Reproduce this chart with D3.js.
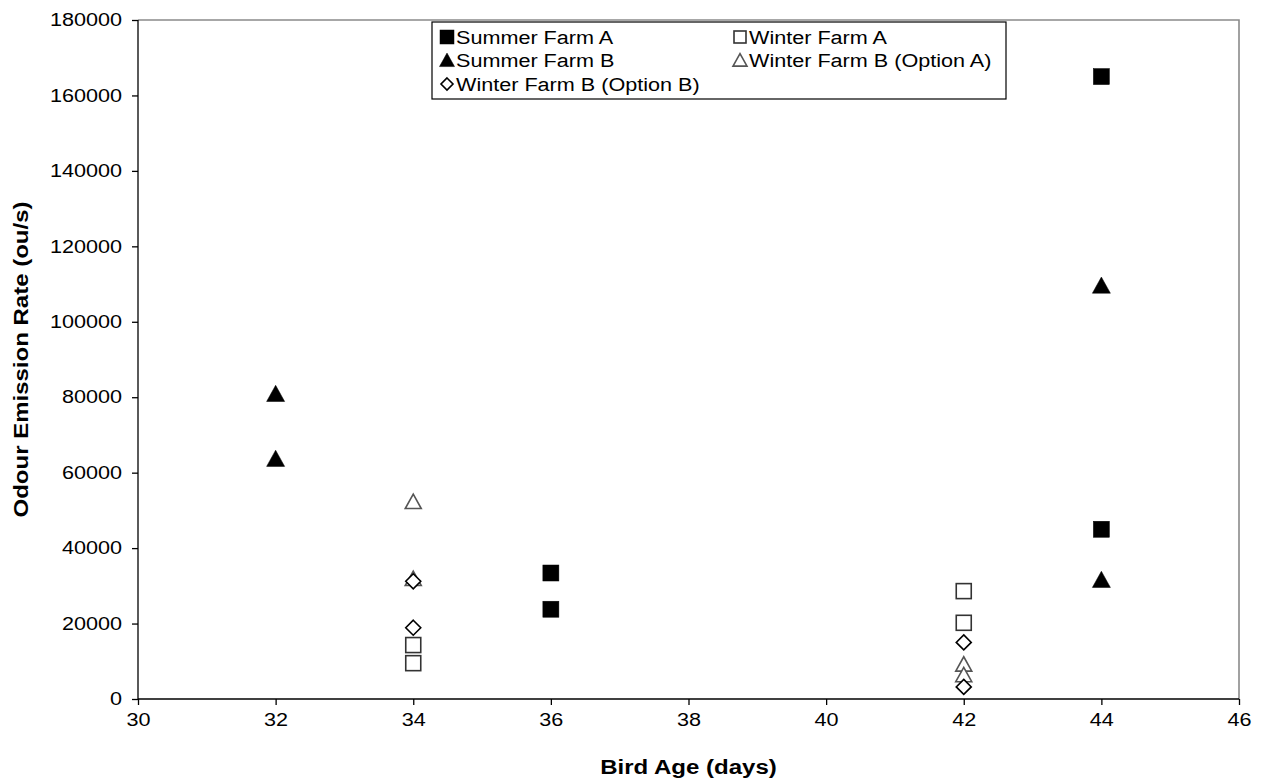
<!DOCTYPE html>
<html><head><meta charset="utf-8">
<script src="https://cdn.jsdelivr.net/npm/d3@7"></script>
<style>body{margin:0;background:#fff}svg{display:block;font-family:"Liberation Sans",Arial,sans-serif}</style>
</head><body>
<script>
const seriesNames = ["Summer Farm A","Winter Farm A","Summer Farm B","Winter Farm B (Option A)","Winter Farm B (Option B)"];
const summerFarmA = [[36,33400],[36,23800],[44,165000],[44,45000]];
const winterFarmA = [[34,14300],[34,9500],[42,28600],[42,20200]];
const summerFarmB = [[32,80800],[32,63600],[44,109500],[44,31500]];
const winterFarmBOptA = [[34,52200],[34,31800],[42,9100],[42,6300]];
const winterFarmBOptB = [[34,31200],[34,18900],[42,15000],[42,3200]];
const xTicks = [30,32,34,36,38,40,42,44,46];
const yTicks = [0,20000,40000,60000,80000,100000,120000,140000,160000,180000];

const W=1264,H=783;
const L=138,R=1239,T=20,B=699;
const STRETCH=1.2;
const svg=d3.select("body").append("svg").attr("width",W).attr("height",H);
const x=d3.scaleLinear().domain([30,46]).range([L,R]);
const y=d3.scaleLinear().domain([0,180000]).range([B,T]);

function widen(sel){
  sel.each(function(){
    const w=this.getComputedTextLength();
    d3.select(this).attr("textLength",w*STRETCH).attr("lengthAdjust","spacingAndGlyphs");
  });
}

// plot border top/right
svg.append("path").attr("d",`M${L},${T}H${R}V${B}`).attr("fill","none").attr("stroke","#8a8a8a").attr("stroke-width",1.6);

const xa=svg.append("g").attr("transform",`translate(0,${B})`).call(d3.axisBottom(x).tickValues(xTicks).tickSize(6).tickPadding(8).tickFormat(d3.format("d")));
const ya=svg.append("g").attr("transform",`translate(${L},0)`).call(d3.axisLeft(y).tickValues(yTicks).tickSize(6).tickPadding(10).tickFormat(d3.format("d")));
[xa,ya].forEach(a=>{a.selectAll("path,line").attr("stroke","#000").attr("stroke-width",1.3);a.selectAll("text").attr("font-size",18).attr("fill","#000").attr("font-family","Liberation Sans, Arial, sans-serif");});
xa.select(".domain").attr("d",`M${L},0H${R}`);
ya.select(".domain").attr("d",`M0,${B}V${T}`);
widen(xa.selectAll("text"));widen(ya.selectAll("text"));

const xt=svg.append("text").attr("x",(L+R)/2).attr("y",774).attr("text-anchor","middle").attr("font-size",20).attr("font-weight","bold").text("Bird Age (days)");
const yt=svg.append("text").attr("transform",`translate(28,${(T+B)/2}) rotate(-90)`).attr("text-anchor","middle").attr("font-size",20).attr("font-weight","bold").text("Odour Emission Rate (ou/s)");
widen(xt);widen(yt);

function marker(g,type,filled,size){
  let p;
  if(type==="square"){p=g.append("rect").attr("x",-size/2).attr("y",-size/2).attr("width",size).attr("height",size);}
  else if(type==="triangle"){const h=size*0.9;p=g.append("path").attr("d",`M0,${-h*0.55}L${size/2},${h*0.45}L${-size/2},${h*0.45}Z`);}
  else {const r=size/2;p=g.append("path").attr("d",`M0,${-r}L${r},0L0,${r}L${-r},0Z`);}
  p.attr("fill",filled?"#000":"#fff").attr("stroke",filled?"#000":(type==="triangle"?"#555":(type==="square"?"#333":"#000"))).attr("stroke-width",filled?0.5:1.6);
}
const specs=[
 {data:winterFarmA,type:"square",filled:false,size:15},
 {data:winterFarmBOptA,type:"triangle",filled:false,size:16},
 {data:winterFarmBOptB,type:"diamond",filled:false,size:15},
 {data:summerFarmA,type:"square",filled:true,size:16},
 {data:summerFarmB,type:"triangle",filled:true,size:18}
];
specs.forEach(s=>{
  s.data.forEach(d=>{const g=svg.append("g").attr("transform",`translate(${x(d[0])},${y(d[1])})`);marker(g,s.type,s.filled,s.size);});
});

// legend
const lg=svg.append("g");
lg.append("rect").attr("x",432).attr("y",22).attr("width",574).attr("height",77).attr("fill","#fff").attr("stroke","#000").attr("stroke-width",1.2);
const legItems=[
 {name:seriesNames[0],type:"square",filled:true,size:14,col:0,row:0},
 {name:seriesNames[1],type:"square",filled:false,size:12,col:1,row:0},
 {name:seriesNames[2],type:"triangle",filled:true,size:15,col:0,row:1},
 {name:seriesNames[3],type:"triangle",filled:false,size:14,col:1,row:1},
 {name:seriesNames[4],type:"diamond",filled:false,size:12,col:0,row:2}
];
legItems.forEach(it=>{
  const mx=it.col?740:447, ty=37+it.row*23.5;
  const g=lg.append("g").attr("transform",`translate(${mx},${ty})`);
  marker(g,it.type,it.filled,it.size);
  const t=lg.append("text").attr("x",mx+9).attr("y",ty+6.5).attr("font-size",18).text(it.name);
  widen(t);
});
</script>
</body></html>
